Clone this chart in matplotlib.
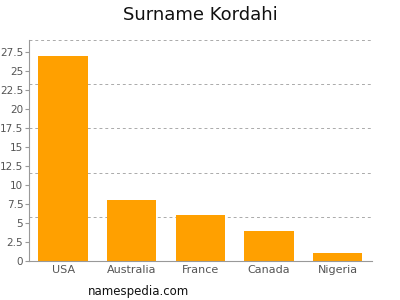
import matplotlib
matplotlib.use("Agg")
import matplotlib.pyplot as plt
import numpy as np

categories = ["USA", "Australia", "France", "Canada", "Nigeria"]
values = [27, 8, 6, 4, 1]
yticks = [0, 2.5, 5, 7.5, 10, 12.5, 15, 17.5, 20, 22.5, 25, 27.5]
ytick_labels = ["0", "2.5", "5", "7.5", "10", "12.5", "15", "17.5", "20", "22.5", "25", "27.5"]

fig = plt.figure(figsize=(4, 3), dpi=100)
ax = fig.add_axes([0.072, 0.13, 0.858, 0.737])
x = np.arange(len(categories))
ax.bar(x, values, width=0.72, color="#ffa000", zorder=2)
ax.set_xlim(-0.5, len(categories) - 0.5)
ymax = 29.08
ax.set_ylim(0, ymax)
ax.set_yticks(yticks)
ax.set_yticklabels(ytick_labels, fontsize=7.5, color="#555555")
ax.set_xticks(x)
ax.set_xticklabels(categories, fontsize=8, color="#555555")
for g in np.linspace(0, ymax, 6)[1:]:
    ax.axhline(g, color="#aaaaaa", linestyle=(0, (3, 3)), linewidth=0.7, zorder=1)
for s in ["top", "right"]:
    ax.spines[s].set_visible(False)
for s in ["left", "bottom"]:
    ax.spines[s].set_color("#999999")
    ax.spines[s].set_linewidth(0.8)
ax.tick_params(axis="y", length=3, color="#999999", pad=1)
ax.tick_params(axis="x", length=0, pad=3)
fig.text(0.5, 0.95, "Surname Kordahi", ha="center", va="center", fontsize=13, color="#111111")
fig.text(0.22, 0.03, "namespedia.com", ha="left", va="center", fontsize=8.5, color="#111111")
fig.savefig("out.png", dpi=100)
